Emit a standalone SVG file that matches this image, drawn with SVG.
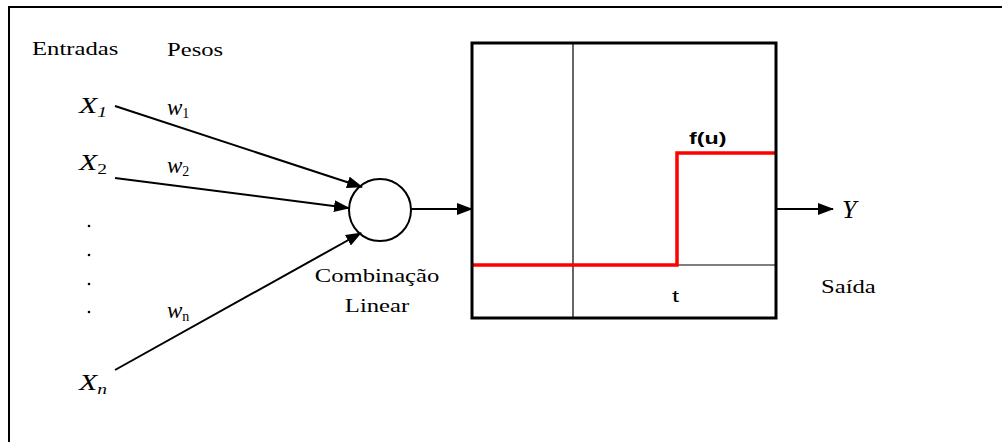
<svg xmlns="http://www.w3.org/2000/svg" width="1002" height="442" viewBox="0 0 1002 442">
  <style>
    .serif { font-family: "Liberation Serif", "Times New Roman", serif; fill: #000; }
    .sans { font-family: "Liberation Sans", Arial, sans-serif; fill: #000; }
    .lbl { font-size: 18px; }
    .var { font-size: 23px; font-style: italic; }
    .wt { font-size: 23px; font-style: italic; }
    .sub { font-size: 15px; }
    .wsub { font-size: 14px; font-style: normal; }
    .edge { stroke: #000; stroke-width: 2; fill: none; }
    .thin { stroke: #000; stroke-width: 1.2; fill: none; }
  </style>
  <defs>
    <marker id="arrow" markerWidth="16" markerHeight="12" refX="15" refY="6" orient="auto" markerUnits="userSpaceOnUse">
      <path d="M0,0 L16,6 L0,12 Z" fill="#000"/>
    </marker>
  </defs>

  <rect x="0" y="0" width="1002" height="442" fill="#fff"/>

  <!-- page frame (top and left borders) -->
  <path d="M9,442 L9,7 L1002,7" stroke="#000" stroke-width="2" fill="none"/>

  <!-- headings (text is set wide: 1.37x horizontal scale) -->
  <text class="serif lbl" transform="translate(32,55) scale(1.37,1)">Entradas</text>
  <text class="serif lbl" transform="translate(167,56) scale(1.37,1)">Pesos</text>

  <!-- inputs -->
  <g id="input-x1">
    <text class="serif var" transform="translate(79,113) scale(1.3,1)">X<tspan class="sub" dy="4">1</tspan></text>
  </g>
  <g id="input-x2">
    <text class="serif var" transform="translate(79,170) scale(1.3,1)">X<tspan class="sub" font-style="normal" dy="4">2</tspan></text>
  </g>
  <g id="input-dots" fill="#000">
    <circle cx="89" cy="226" r="1.3"/>
    <circle cx="89" cy="255" r="1.3"/>
    <circle cx="89" cy="284" r="1.3"/>
    <circle cx="89" cy="312" r="1.3"/>
  </g>
  <g id="input-xn">
    <text class="serif var" transform="translate(79,390) scale(1.3,1)">X<tspan class="sub" dy="4">n</tspan></text>
  </g>

  <!-- weights -->
  <g id="weight-w1">
    <text class="serif wt" x="167" y="115">w<tspan class="wsub" dy="3">1</tspan></text>
  </g>
  <g id="weight-w2">
    <text class="serif wt" x="167" y="173">w<tspan class="wsub" dy="3">2</tspan></text>
  </g>
  <g id="weight-wn">
    <text class="serif wt" x="167" y="318">w<tspan class="wsub" dy="3">n</tspan></text>
  </g>

  <!-- summation node -->
  <g id="linear-combination">
    <circle cx="380" cy="210" r="31" fill="#fff" stroke="#000" stroke-width="2"/>
    <text class="serif lbl" text-anchor="middle" transform="translate(377,282) scale(1.37,1)">Combinação</text>
    <text class="serif lbl" text-anchor="middle" transform="translate(377,312) scale(1.37,1)">Linear</text>
  </g>

  <!-- activation function plot -->
  <g id="activation">
    <line class="thin" x1="573" y1="43" x2="573" y2="318"/>
    <line class="thin" x1="472" y1="265" x2="776" y2="265"/>
    <polyline points="473,265 677,265 677,153 775,153" fill="none" stroke="#ff0000" stroke-width="3.5"/>
    <rect x="472" y="43" width="304" height="275" fill="none" stroke="#000" stroke-width="3"/>
    <text class="sans" font-size="17" font-weight="bold" transform="translate(689,144) scale(1.37,1)">f(u)</text>
    <text class="sans" font-size="17" transform="translate(672,302) scale(1.5,1)">t</text>
  </g>

  <!-- output -->
  <g id="output">
    <text class="serif" x="842" y="218" font-size="26" font-style="italic">Y</text>
    <text class="serif lbl" transform="translate(821,293) scale(1.37,1)">Saída</text>
  </g>

  <!-- connectors -->
  <g id="connectors">
    <line class="edge" x1="115" y1="106" x2="362" y2="187" marker-end="url(#arrow)"/>
    <line class="edge" x1="115" y1="178" x2="349" y2="208" marker-end="url(#arrow)"/>
    <line class="edge" x1="115" y1="370" x2="361" y2="233" marker-end="url(#arrow)"/>
    <line class="edge" x1="411" y1="209" x2="472" y2="209" marker-end="url(#arrow)"/>
    <line class="edge" x1="777" y1="209" x2="833" y2="209" marker-end="url(#arrow)"/>
  </g>
</svg>
